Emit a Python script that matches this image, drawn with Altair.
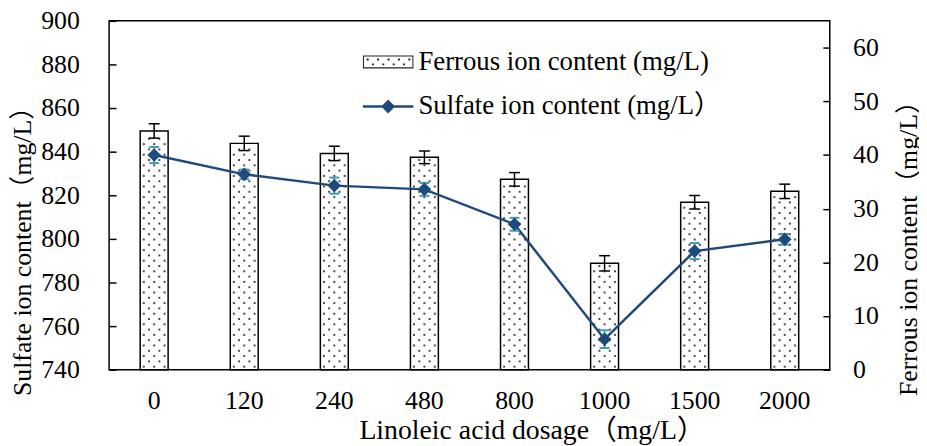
import altair as alt
import pandas as pd

# ---------------- data ----------------
categories = ["0", "120", "240", "480", "800", "1000", "1500", "2000"]
bar_values = [849.5, 843.8, 839.2, 837.4, 827.3, 788.8, 816.8, 821.8]
bar_errors = [3.3, 3.3, 3.3, 2.9, 3.1, 3.5, 3.1, 3.3]
line_values = [40.0, 36.4, 34.3, 33.6, 27.1, 5.7, 22.1, 24.3]
line_errors = [1.5, 0.9, 1.5, 1.2, 1.2, 1.65, 1.5, 1.0]
legend_labels = ["Ferrous ion content (mg/L)", "Sulfate ion content (mg/L\uff09"]
left_ticks = [740, 760, 780, 800, 820, 840, 860, 880, 900]
right_ticks = [0, 10, 20, 30, 40, 50, 60]

df = pd.DataFrame({
    "dosage": categories,
    "bar": bar_values,
    "bar_lo": [v - e for v, e in zip(bar_values, bar_errors)],
    "bar_hi": [v + e for v, e in zip(bar_values, bar_errors)],
    "line": line_values,
    "line_lo": [v - e for v, e in zip(line_values, line_errors)],
    "line_hi": [v + e for v, e in zip(line_values, line_errors)],
})
legend_df = pd.DataFrame({"series": legend_labels})

FONT = "Liberation Serif, Times New Roman, Noto Sans CJK SC, serif"
LINE_COLOR = "#1F4A7C"
ERR_COLOR = "#3F9AB6"

# ---------------- legend symbol paths ----------------
def sq(cx, cy, r=0.14):
    return f"M{cx - r:.2f},{cy - r:.2f}h{2*r:.2f}v{2*r:.2f}h{-2*r:.2f}Z"

bar_sym = "M-3.64,-0.93H3.64V0.93H-3.64Z" + "M-3.49,-0.78V0.78H3.49V-0.78Z"
for cx in [-2.95, -1.45, 0.05, 1.55, 3.05]:
    bar_sym += sq(cx, -0.35)
for cx in [-2.2, -0.7, 0.8, 2.3]:
    bar_sym += sq(cx, 0.35)
line_sym = "M-3.64,-0.18H3.64V0.18H-3.64Z" + "M0,-1L1,0L0,1L-1,0Z"

# ---------------- scales & axes ----------------
x_scale = alt.Scale(paddingInner=0.69, paddingOuter=0.345)
x_axis = alt.Axis(
    title="Linoleic acid dosage\uff08mg/L\uff09",
    labelAngle=0, labelFont=FONT, labelFontSize=26, labelColor="black",
    labelPadding=18, ticks=False, tickSize=0, domain=False,
    titleFont=FONT, titleFontSize=28, titleFontWeight="normal", titleColor="black",
    titleAlign="left", titleBaseline="middle", titleX=252, titleY=61,
)

def X(band=None):
    if band is None:
        return alt.X("dosage:N", sort=categories, scale=x_scale, axis=x_axis)
    return alt.X("dosage:N", sort=categories, scale=x_scale, axis=x_axis, bandPosition=band)

left_scale = alt.Scale(domain=[740, 900], zero=False, nice=False)
right_scale = alt.Scale(domain=[0, 65], zero=False, nice=False)

left_axis = alt.Axis(
    orient="left", values=left_ticks, title="Sulfate ion content\uff08mg/L\uff09",
    grid=True, gridDash=[7, 3000], gridColor="black", gridWidth=1.5, gridOpacity=1,
    ticks=False, tickSize=0, domain=False,
    labelFont=FONT, labelFontSize=26, labelColor="black", labelPadding=30,
    titleFont=FONT, titleFontSize=26, titleFontWeight="normal", titleColor="black",
    titleAngle=270, titleAlign="left", titleBaseline="middle", titleX=-87, titleY=378,
)
right_axis = alt.Axis(
    orient="right", values=right_ticks, title="Ferrous ion content\uff08mg/L\uff09",
    grid=True, gridDash=[7, 3000], gridColor="black", gridWidth=1.5, gridOpacity=1,
    ticks=False, tickSize=0, domain=False,
    labelFont=FONT, labelFontSize=26, labelColor="black", labelPadding=23,
    titleFont=FONT, titleFontSize=26, titleFontWeight="normal", titleColor="black",
    titleAngle=270, titleAlign="left", titleBaseline="middle", titleX=79, titleY=378,
)

def YL(field):
    return alt.Y(field, scale=left_scale, axis=left_axis)

def YR(field):
    return alt.Y(field, scale=right_scale, axis=right_axis)

base = alt.Chart(df)

bars = base.mark_bar(fill="white", stroke="black", strokeWidth=1.5).encode(
    x=X(), y=YL("bar:Q"), y2=alt.datum(740),
)

# dotted fill texture: staggered rows of small squares inside each bar
dot_src = (
    base.transform_calculate(ys="sequence(741.4, datum.bar - 1.2, 2.43)")
    .transform_flatten(["ys"])
    .transform_calculate(row="round((datum.ys - 741.4) / 2.43)")
)
dot_positions = [0.128, 0.314, 0.5, 0.686, 0.872]
dot_layers = []
for k, bp in enumerate(dot_positions):
    parity = k % 2
    dot_layers.append(
        dot_src.transform_filter(f"datum.row % 2 == {parity}")
        .mark_square(size=4, color="#4d4d4d", opacity=1, strokeWidth=0)
        .encode(x=X(bp), y=YL("ys:Q"))
    )

bar_err = base.mark_rule(color="black", strokeWidth=1.5).encode(
    x=X(), y=YL("bar_lo:Q"), y2="bar_hi:Q"
)
bar_cap_lo = base.mark_tick(color="black", size=11, thickness=1.5, opacity=1).encode(
    x=X(), y=YL("bar_lo:Q")
)
bar_cap_hi = base.mark_tick(color="black", size=11, thickness=1.5, opacity=1).encode(
    x=X(), y=YL("bar_hi:Q")
)

left_layer = alt.layer(bars, *dot_layers, bar_err, bar_cap_lo, bar_cap_hi)

line = base.mark_line(color=LINE_COLOR, strokeWidth=2.5).encode(
    x=X(), y=YR("line:Q")
)
line_err = base.mark_rule(color=ERR_COLOR, strokeWidth=1.5).encode(
    x=X(), y=YR("line_lo:Q"), y2="line_hi:Q"
)
line_cap_lo = base.mark_tick(color=ERR_COLOR, size=10, thickness=2, opacity=1).encode(
    x=X(), y=YR("line_lo:Q")
)
line_cap_hi = base.mark_tick(color=ERR_COLOR, size=10, thickness=2, opacity=1).encode(
    x=X(), y=YR("line_hi:Q")
)
points = base.mark_point(shape="diamond", filled=True, size=190, color=LINE_COLOR, opacity=1).encode(
    x=X(), y=YR("line:Q")
)

right_layer = alt.layer(line, line_err, line_cap_lo, line_cap_hi, points)

leg = alt.Legend(
    title=None, orient="none", legendX=268, legendY=28,
    symbolSize=196, symbolStrokeWidth=0, symbolOpacity=1,
    labelFont=FONT, labelFontSize=27, labelColor="black", labelLimit=500,
    labelOffset=17, rowPadding=17,
)
legend_layer = alt.Chart(legend_df).mark_point(filled=True, opacity=0).encode(
    shape=alt.Shape("series:N", sort=legend_labels,
                    scale=alt.Scale(domain=legend_labels, range=[bar_sym, line_sym]), legend=leg),
    color=alt.Color("series:N", sort=legend_labels,
                    scale=alt.Scale(domain=legend_labels, range=["#222222", LINE_COLOR]), legend=leg),
)

chart = (
    alt.layer(left_layer, right_layer, legend_layer)
    .resolve_scale(y="independent")
    .properties(
        width=727, height=352,
        autosize=alt.AutoSizeParams(type="none"),
        padding={"left": 102, "top": 11, "right": 90, "bottom": 75},
    )
    .configure(
        font=FONT,
        view=alt.ViewConfig(stroke="black", strokeWidth=1.5),
        style={
            "guide-label": {"font": FONT},
            "guide-title": {"font": FONT},
            "group-title": {"font": FONT},
        },
    )
)

chart.save("out.html", embed_options={"renderer": "svg", "actions": False})
